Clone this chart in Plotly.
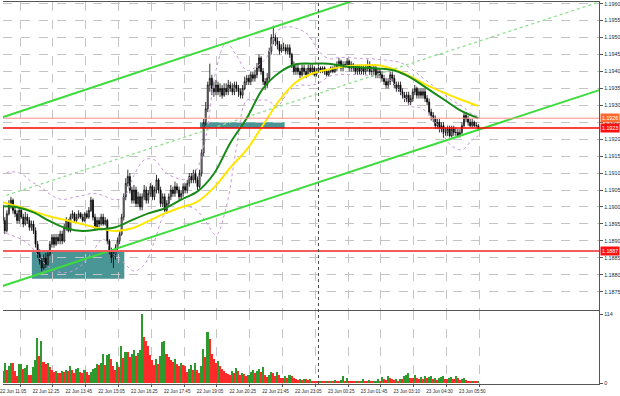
import plotly.graph_objects as go

# ---------------- data ----------------
time_labels = ["22 Jun 11:05", "22 Jun 12:25", "22 Jun 13:45", "22 Jun 15:05", "22 Jun 16:25",
               "22 Jun 17:45", "22 Jun 19:05", "22 Jun 20:25", "22 Jun 21:45", "22 Jun 23:05",
               "23 Jun 00:25", "23 Jun 01:45", "23 Jun 03:10", "23 Jun 04:30", "23 Jun 05:50"]
time_label_bars = [0, 16, 32, 48, 64, 80, 96, 112, 128, 144, 160, 176, 192, 208, 224]
day_separator_bar = 155

price_ticks = [1.1875, 1.1880, 1.1885, 1.1890, 1.1895, 1.1900, 1.1905, 1.1910, 1.1915, 1.1920,
               1.1925, 1.1930, 1.1935, 1.1940, 1.1945, 1.1950, 1.1955, 1.1960]
volume_ticks = [0, 114]

opens = [
    1.1902, 1.1900, 1.1896, 1.1893, 1.1898, 1.1901, 1.1902, 1.1899, 1.1898, 1.1896,
    1.1899, 1.1897, 1.1895, 1.1897, 1.1896, 1.1894, 1.1895, 1.1893, 1.1889, 1.1886,
    1.1884, 1.1882, 1.1885, 1.1883, 1.1886, 1.1889, 1.1891, 1.1889, 1.1891, 1.1890,
    1.1892, 1.1890, 1.1894, 1.1896, 1.1893, 1.1897, 1.1898, 1.1896, 1.1897, 1.1898,
    1.1897, 1.1896, 1.1898, 1.1897, 1.1899, 1.1902, 1.1897, 1.1894, 1.1896, 1.1895,
    1.1897, 1.1895, 1.1896, 1.1890, 1.1887, 1.1885, 1.1886, 1.1888, 1.1890, 1.1892,
    1.1897, 1.1903, 1.1907, 1.1909, 1.1905, 1.1902, 1.1905, 1.1901, 1.1903, 1.1900,
    1.1903, 1.1905, 1.1902, 1.1904, 1.1906, 1.1903, 1.1905, 1.1908, 1.1905, 1.1901,
    1.1903, 1.1899, 1.1901, 1.1903, 1.1905, 1.1904, 1.1906, 1.1905, 1.1903, 1.1904,
    1.1906, 1.1905, 1.1907, 1.1909, 1.1908, 1.1910, 1.1908, 1.1906, 1.1910, 1.1916,
    1.1925, 1.1929, 1.1936, 1.1938, 1.1935, 1.1934, 1.1936, 1.1934, 1.1935, 1.1933,
    1.1935, 1.1934, 1.1936, 1.1935, 1.1934, 1.1936, 1.1935, 1.1934, 1.1933, 1.1935,
    1.1937, 1.1938, 1.1937, 1.1939, 1.1938, 1.1939, 1.1941, 1.1944, 1.1940, 1.1937,
    1.1936, 1.1938, 1.1946, 1.1950, 1.1950, 1.1949, 1.1948, 1.1946, 1.1947, 1.1947,
    1.1946, 1.1947, 1.1945, 1.1942, 1.1940, 1.1941, 1.1940, 1.1939, 1.1941, 1.1940,
    1.1939, 1.1941, 1.1940, 1.1941, 1.1939, 1.1940, 1.1941, 1.1940, 1.1941, 1.1940,
    1.1939, 1.1940, 1.1941, 1.1940, 1.1941, 1.1942, 1.1943, 1.1941, 1.1942, 1.1942,
    1.1943, 1.1941, 1.1942, 1.1941, 1.1940, 1.1941, 1.1940, 1.1941, 1.1940, 1.1941,
    1.1942, 1.1940, 1.1940, 1.1941, 1.1939, 1.1940, 1.1939, 1.1938, 1.1937, 1.1936,
    1.1937, 1.1939, 1.1938, 1.1936, 1.1935, 1.1936, 1.1934, 1.1933, 1.1932, 1.1933,
    1.1931, 1.1932, 1.1934, 1.1935, 1.1933, 1.1934, 1.1933, 1.1934, 1.1932, 1.1931,
    1.1928, 1.1927, 1.1926, 1.1924, 1.1925, 1.1923, 1.1924, 1.1922, 1.1922, 1.1923,
    1.1921, 1.1923, 1.1922, 1.1922, 1.1921, 1.1922, 1.1924, 1.1927, 1.1926, 1.1925,
    1.1924, 1.1925, 1.1924, 1.1924]

highs = [
    1.19030, 1.19010, 1.18970, 1.18990, 1.19020, 1.19030, 1.19025, 1.19000, 1.18990, 1.19000,
    1.19000, 1.18980, 1.18985, 1.18980, 1.18970, 1.18960, 1.18960, 1.18940, 1.18900, 1.18875,
    1.18850, 1.18860, 1.18865, 1.18870, 1.18900, 1.18920, 1.18920, 1.18920, 1.18920, 1.18930,
    1.18930, 1.18950, 1.18970, 1.18965, 1.18980, 1.18990, 1.18985, 1.18980, 1.18990, 1.18985,
    1.18980, 1.18985, 1.18990, 1.19000, 1.19030, 1.19025, 1.18980, 1.18970, 1.18970, 1.18980,
    1.18980, 1.18970, 1.18965, 1.18905, 1.18880, 1.18870, 1.18890, 1.18910, 1.18930, 1.18980,
    1.19040, 1.19085, 1.19110, 1.19100, 1.19060, 1.19065, 1.19060, 1.19045, 1.19040, 1.19040,
    1.19065, 1.19060, 1.19050, 1.19070, 1.19065, 1.19060, 1.19095, 1.19085, 1.19060, 1.19040,
    1.19040, 1.19020, 1.19040, 1.19065, 1.19060, 1.19075, 1.19070, 1.19060, 1.19050, 1.19070,
    1.19070, 1.19080, 1.19100, 1.19100, 1.19110, 1.19110, 1.19090, 1.19110, 1.19170, 1.19260,
    1.19310, 1.19370, 1.19423, 1.19390, 1.19370, 1.19375, 1.19370, 1.19365, 1.19360, 1.19365,
    1.19365, 1.19375, 1.19370, 1.19365, 1.19370, 1.19370, 1.19360, 1.19350, 1.19360, 1.19385,
    1.19390, 1.19390, 1.19400, 1.19400, 1.19405, 1.19425, 1.19450, 1.19445, 1.19410, 1.19380,
    1.19395, 1.19470, 1.19510, 1.19535, 1.19510, 1.19500, 1.19490, 1.19480, 1.19485, 1.19480,
    1.19480, 1.19480, 1.19455, 1.19430, 1.19420, 1.19420, 1.19410, 1.19420, 1.19420, 1.19410,
    1.19420, 1.19420, 1.19420, 1.19415, 1.19410, 1.19415, 1.19415, 1.19415, 1.19415, 1.19405,
    1.19405, 1.19415, 1.19415, 1.19420, 1.19430, 1.19440, 1.19435, 1.19430, 1.19430, 1.19440,
    1.19435, 1.19430, 1.19425, 1.19420, 1.19420, 1.19420, 1.19420, 1.19420, 1.19420, 1.19435,
    1.19430, 1.19415, 1.19420, 1.19420, 1.19410, 1.19410, 1.19400, 1.19390, 1.19380, 1.19380,
    1.19400, 1.19400, 1.19390, 1.19370, 1.19370, 1.19370, 1.19350, 1.19340, 1.19340, 1.19340,
    1.19330, 1.19350, 1.19360, 1.19355, 1.19350, 1.19350, 1.19350, 1.19350, 1.19330, 1.19320,
    1.19290, 1.19280, 1.19270, 1.19260, 1.19260, 1.19250, 1.19250, 1.19235, 1.19240, 1.19240,
    1.19240, 1.19240, 1.19235, 1.19230, 1.19230, 1.19250, 1.19280, 1.19280, 1.19270, 1.19260,
    1.19260, 1.19255, 1.19250, 1.19245]

lows = [
    1.18985, 1.18950, 1.18920, 1.18925, 1.18975, 1.18995, 1.18980, 1.18970, 1.18950, 1.18950,
    1.18965, 1.18940, 1.18945, 1.18950, 1.18930, 1.18930, 1.18920, 1.18880, 1.18850, 1.18830,
    1.18810, 1.18815, 1.18820, 1.18825, 1.18855, 1.18880, 1.18880, 1.18885, 1.18890, 1.18890,
    1.18890, 1.18895, 1.18930, 1.18925, 1.18925, 1.18965, 1.18955, 1.18955, 1.18965, 1.18965,
    1.18955, 1.18955, 1.18965, 1.18965, 1.18985, 1.18960, 1.18930, 1.18935, 1.18940, 1.18945,
    1.18945, 1.18945, 1.18890, 1.18860, 1.18835, 1.18820, 1.18845, 1.18870, 1.18890, 1.18915,
    1.18960, 1.19020, 1.19060, 1.19040, 1.19010, 1.19010, 1.19000, 1.19000, 1.18990, 1.18990,
    1.19020, 1.19010, 1.19010, 1.19030, 1.19020, 1.19020, 1.19040, 1.19040, 1.19000, 1.19000,
    1.18985, 1.18980, 1.19000, 1.19020, 1.19030, 1.19030, 1.19040, 1.19020, 1.19020, 1.19030,
    1.19040, 1.19040, 1.19060, 1.19070, 1.19070, 1.19070, 1.19050, 1.19055, 1.19090, 1.19150,
    1.19240, 1.19280, 1.19340, 1.19330, 1.19325, 1.19330, 1.19330, 1.19325, 1.19320, 1.19325,
    1.19330, 1.19330, 1.19340, 1.19330, 1.19330, 1.19340, 1.19325, 1.19320, 1.19320, 1.19345,
    1.19360, 1.19360, 1.19360, 1.19370, 1.19370, 1.19380, 1.19400, 1.19390, 1.19360, 1.19345,
    1.19350, 1.19370, 1.19450, 1.19480, 1.19475, 1.19465, 1.19450, 1.19455, 1.19460, 1.19450,
    1.19450, 1.19440, 1.19410, 1.19390, 1.19390, 1.19390, 1.19380, 1.19385, 1.19390, 1.19380,
    1.19385, 1.19390, 1.19390, 1.19385, 1.19385, 1.19395, 1.19395, 1.19395, 1.19390, 1.19385,
    1.19385, 1.19395, 1.19395, 1.19395, 1.19400, 1.19410, 1.19400, 1.19400, 1.19410, 1.19410,
    1.19400, 1.19400, 1.19400, 1.19390, 1.19390, 1.19390, 1.19390, 1.19390, 1.19390, 1.19400,
    1.19390, 1.19385, 1.19390, 1.19380, 1.19380, 1.19380, 1.19370, 1.19360, 1.19350, 1.19350,
    1.19360, 1.19370, 1.19350, 1.19340, 1.19340, 1.19330, 1.19320, 1.19310, 1.19310, 1.19300,
    1.19300, 1.19310, 1.19330, 1.19320, 1.19320, 1.19320, 1.19320, 1.19310, 1.19300, 1.19270,
    1.19255, 1.19250, 1.19230, 1.19230, 1.19220, 1.19220, 1.19204, 1.19210, 1.19210, 1.19205,
    1.19205, 1.19210, 1.19210, 1.19205, 1.19205, 1.19215, 1.19235, 1.19250, 1.19240, 1.19235,
    1.19235, 1.19235, 1.19235, 1.19225]

closes = [
    1.1900, 1.1896, 1.1893, 1.1898, 1.1901, 1.1902, 1.1899, 1.1898, 1.1896, 1.1899,
    1.1897, 1.1895, 1.1897, 1.1896, 1.1894, 1.1895, 1.1893, 1.1889, 1.1886, 1.1884,
    1.1882, 1.1885, 1.1883, 1.1886, 1.1889, 1.1891, 1.1889, 1.1891, 1.1890, 1.1892,
    1.1890, 1.1894, 1.1896, 1.1893, 1.1897, 1.1898, 1.1896, 1.1897, 1.1898, 1.1897,
    1.1896, 1.1898, 1.1897, 1.1899, 1.1902, 1.1897, 1.1894, 1.1896, 1.1895, 1.1897,
    1.1895, 1.1896, 1.1890, 1.1887, 1.1885, 1.1886, 1.1888, 1.1890, 1.1892, 1.1897,
    1.1903, 1.1907, 1.1909, 1.1905, 1.1902, 1.1905, 1.1901, 1.1903, 1.1900, 1.1903,
    1.1905, 1.1902, 1.1904, 1.1906, 1.1903, 1.1905, 1.1908, 1.1905, 1.1901, 1.1903,
    1.1899, 1.1901, 1.1903, 1.1905, 1.1904, 1.1906, 1.1905, 1.1903, 1.1904, 1.1906,
    1.1905, 1.1907, 1.1909, 1.1908, 1.1910, 1.1908, 1.1906, 1.1910, 1.1916, 1.1925,
    1.1929, 1.1936, 1.1938, 1.1935, 1.1934, 1.1936, 1.1934, 1.1935, 1.1933, 1.1935,
    1.1934, 1.1936, 1.1935, 1.1934, 1.1936, 1.1935, 1.1934, 1.1933, 1.1935, 1.1937,
    1.1938, 1.1937, 1.1939, 1.1938, 1.1939, 1.1941, 1.1944, 1.1940, 1.1937, 1.1936,
    1.1938, 1.1946, 1.1950, 1.1950, 1.1949, 1.1948, 1.1946, 1.1947, 1.1947, 1.1946,
    1.1947, 1.1945, 1.1942, 1.1940, 1.1941, 1.1940, 1.1939, 1.1941, 1.1940, 1.1939,
    1.1941, 1.1940, 1.1941, 1.1939, 1.1940, 1.1941, 1.1940, 1.1941, 1.1940, 1.1939,
    1.1940, 1.1941, 1.1940, 1.1941, 1.1942, 1.1943, 1.1941, 1.1942, 1.1942, 1.1943,
    1.1941, 1.1942, 1.1941, 1.1940, 1.1941, 1.1940, 1.1941, 1.1940, 1.1941, 1.1942,
    1.1940, 1.1940, 1.1941, 1.1939, 1.1940, 1.1939, 1.1938, 1.1937, 1.1936, 1.1937,
    1.1939, 1.1938, 1.1936, 1.1935, 1.1936, 1.1934, 1.1933, 1.1932, 1.1933, 1.1931,
    1.1932, 1.1934, 1.1935, 1.1933, 1.1934, 1.1933, 1.1934, 1.1932, 1.1931, 1.1928,
    1.1927, 1.1926, 1.1924, 1.1925, 1.1923, 1.1924, 1.1922, 1.1922, 1.1923, 1.1921,
    1.1923, 1.1922, 1.1922, 1.1921, 1.1922, 1.1924, 1.1927, 1.1926, 1.1925, 1.1924,
    1.1925, 1.1924, 1.1924, 1.1923]

volumes = [
    22, 20, 34, 21, 28, 34, 33, 20, 12, 31,
    32, 23, 25, 30, 14, 13, 26, 38, 74, 45,
    69, 35, 31, 33, 27, 22, 18, 20, 17, 16,
    20, 19, 22, 20, 29, 22, 17, 24, 25, 19,
    16, 22, 18, 13, 19, 23, 25, 31, 30, 34,
    48, 30, 46, 49, 40, 28, 22, 35, 26, 61,
    42, 52, 51, 44, 48, 55, 45, 50, 55, 114,
    77, 70, 62, 47, 38, 30, 40, 32, 45, 68,
    70, 48, 43, 38, 35, 40, 32, 28, 34, 30,
    28, 18, 24, 30, 22, 33, 22, 17, 29, 56,
    44, 85, 73, 48, 40, 33, 36, 28, 23, 20,
    17, 15, 14, 20, 17, 25, 20, 14, 17, 15,
    11, 14, 18, 21, 16, 20, 24, 18, 26, 14,
    10, 14, 18, 16, 12, 18, 14, 9, 8, 11,
    9, 13, 12, 8, 6, 5, 6, 5, 6, 6,
    5, 6, 4, 3, 3, 2, 3, 2, 2, 3,
    2, 4, 3, 5, 3, 2, 5, 12, 4, 9,
    4, 3, 2, 2, 3, 2, 4, 6, 4, 3,
    5, 2, 3, 4, 6, 4, 10, 6, 5, 12,
    8, 7, 5, 6, 4, 7, 6, 11, 13, 17,
    9, 8, 14, 8, 6, 10, 7, 12, 8, 10,
    12, 6, 8, 5, 9, 10, 12, 7, 6, 8,
    10, 6, 12, 8, 5, 6, 9, 5, 4, 3,
    4, 3, 2, 4]

# moving averages (30 green, 50 yellow) at these bars
ma_bars = [0, 8, 16, 24, 32, 40, 48, 56, 64, 72, 80, 88, 96, 104, 112, 120, 128, 136, 144,
           152, 160, 168, 176, 184, 192, 200, 208, 216, 224, 233]
ma30 = [1.19002, 1.18999, 1.18984, 1.18958, 1.18937, 1.18929, 1.18934, 1.18940, 1.18961, 1.18981,
        1.18996, 1.19022, 1.19046, 1.19098, 1.19189, 1.19262, 1.19350, 1.19397, 1.19421, 1.19423,
        1.19423, 1.19415, 1.19412, 1.19409, 1.19403, 1.19382, 1.19350, 1.19318, 1.19286, 1.19262]
ma50 = [1.19016, 1.19002, 1.18987, 1.18972, 1.18961, 1.18949, 1.18937, 1.18929, 1.18937, 1.18958,
        1.18981, 1.18999, 1.19016, 1.19057, 1.19116, 1.19169, 1.19242, 1.19315, 1.19368, 1.19394,
        1.19406, 1.19415, 1.19418, 1.19418, 1.19406, 1.19385, 1.19359, 1.19338, 1.19318, 1.19298]

# Bollinger bands at these bars
bb_bars = [0, 5, 10, 15, 20, 25, 30, 35, 40, 45, 50, 55, 60, 65, 70, 75, 80, 85, 90, 95,
           100, 105, 110, 115, 120, 125, 130, 135, 140, 145, 150, 155, 160, 165, 170, 175,
           180, 185, 190, 195, 200, 205, 210, 215, 220, 225, 230, 233]
bb_upper = [1.19095, 1.19104, 1.19098, 1.19075, 1.19057, 1.19034, 1.19022, 1.19028, 1.19034, 1.19040,
            1.19034, 1.19022, 1.19028, 1.19093, 1.19139, 1.19139, 1.19104, 1.19087, 1.19081, 1.19104,
            1.19204, 1.19403, 1.19485, 1.19447, 1.19403, 1.19415, 1.19444, 1.19520, 1.19532, 1.19526,
            1.19508, 1.19461, 1.19438, 1.19441, 1.19441, 1.19438, 1.19438, 1.19435, 1.19432, 1.19426,
            1.19409, 1.19385, 1.19362, 1.19338, 1.19315, 1.19298, 1.19274, 1.19268]
bb_lower = [1.18929, 1.18917, 1.18905, 1.18882, 1.18841, 1.18817, 1.18806, 1.18811, 1.18832, 1.18870,
            1.18905, 1.18861, 1.18835, 1.18811, 1.18829, 1.18899, 1.18978, 1.18993, 1.19002, 1.18993,
            1.18958, 1.18917, 1.18999, 1.19175, 1.19315, 1.19315, 1.19315, 1.19298, 1.19338, 1.19359,
            1.19359, 1.19365, 1.19385, 1.19391, 1.19391, 1.19391, 1.19388, 1.19385, 1.19374, 1.19338,
            1.19298, 1.19292, 1.19268, 1.19221, 1.19180, 1.19169, 1.19198, 1.19210]

# trend channel lines (bar, price endpoints)
channel_top_bars = [0, 180]
channel_top_prices = [1.19263, 1.19625]
channel_bottom_bars = [0, 292]
channel_bottom_prices = [1.18765, 1.19345]
channel_mid_bars = [0, 292]
channel_mid_prices = [1.19029, 1.19605]

# horizontal levels
level_prices = [1.19262, 1.19233, 1.18870]
level_labels = ["1.1926", "1.1923", "1.1887"]
level_colors = ["#ff8c8c", "#ff0000", "#f25c5c"]
level_widths = [1, 1.5, 2]
level_box_colors = ["#ff6a30", "#ff1010", "#ff1010"]

# highlighted zones (bar range, price range)
zone_bar_start = [97.2, 15.2]
zone_bar_end = [138.5, 60.3]
zone_price_low = [1.19232, 1.18788]
zone_price_high = [1.19250, 1.18868]

# ---------------- figure ----------------
bars = list(range(len(closes)))
W, H = 620, 396
x_range = [1.12, 291.9]
price_range = [1.18697, 1.19605]
vol_range = [-1.6, 119.7]
x_dom = [0, 599 / W]
price_dom = [1 - 311 / H, 1 - 1 / H]
vol_dom = [1 - 386 / H, 1 - 312.5 / H]
grid_vals = [b + 9.5 for b in time_label_bars]
FONT = "Liberation Sans"
GRID = "#c4c4c4"
AXIS = "#555555"

vol_colors = ["#2e9a2e"] + ["#2e9a2e" if volumes[i] > volumes[i - 1] else "#ff2a2a"
                            for i in range(1, len(volumes))]

fig = go.Figure()

# Bollinger bands
for band in (bb_upper, bb_lower):
    fig.add_trace(go.Scatter(x=bb_bars, y=band, mode="lines", xaxis="x", yaxis="y",
                             line=dict(color="#c79ad8", width=1, dash="dot", shape="spline", smoothing=1.0),
                             hoverinfo="skip"))

# dotted mid channel
fig.add_trace(go.Scatter(x=channel_mid_bars, y=channel_mid_prices, mode="lines", xaxis="x", yaxis="y",
                         line=dict(color="#8fe08f", width=1.3, dash="dot"), hoverinfo="skip"))

# candles
fig.add_trace(go.Candlestick(x=bars, open=opens, high=highs, low=lows, close=closes,
                             xaxis="x", yaxis="y", whiskerwidth=0,
                             increasing=dict(line=dict(color="#000000", width=0.8), fillcolor="#ffffff"),
                             decreasing=dict(line=dict(color="#000000", width=0.8), fillcolor="#000000"),
                             hoverinfo="skip"))

# moving averages
fig.add_trace(go.Scatter(x=ma_bars, y=ma50, mode="lines", xaxis="x", yaxis="y",
                         line=dict(color="#ffe600", width=2, shape="spline", smoothing=1.0), hoverinfo="skip"))
fig.add_trace(go.Scatter(x=ma_bars, y=ma30, mode="lines", xaxis="x", yaxis="y",
                         line=dict(color="#178a17", width=2, shape="spline", smoothing=1.0), hoverinfo="skip"))

# channel lines
fig.add_trace(go.Scatter(x=channel_top_bars, y=channel_top_prices, mode="lines", xaxis="x", yaxis="y",
                         line=dict(color="#3ddc3d", width=2), hoverinfo="skip"))
fig.add_trace(go.Scatter(x=channel_bottom_bars, y=channel_bottom_prices, mode="lines", xaxis="x", yaxis="y",
                         line=dict(color="#3ddc3d", width=2), hoverinfo="skip"))

# volumes
fig.add_trace(go.Bar(x=bars, y=volumes, xaxis="x2", yaxis="y2", width=0.75,
                     marker=dict(color=vol_colors, line=dict(width=0)), hoverinfo="skip"))

shapes = []
for b0, b1, p0, p1 in zip(zone_bar_start, zone_bar_end, zone_price_low, zone_price_high):
    shapes.append(dict(type="rect", xref="x", yref="y", x0=b0, x1=b1, y0=p0, y1=p1,
                       fillcolor="#4a9595", line=dict(width=0), layer="below"))
for p, c, w in zip(level_prices, level_colors, level_widths):
    shapes.append(dict(type="line", xref="x domain", yref="y", x0=0, x1=1, y0=p, y1=p,
                       line=dict(color=c, width=w), layer="above"))
shapes.append(dict(type="line", xref="x", yref="paper", x0=day_separator_bar, x1=day_separator_bar,
                   y0=vol_dom[0], y1=price_dom[1], line=dict(color="#444444", width=1, dash="dot")))

annotations = []
for p, t, c in zip(level_prices, level_labels, level_box_colors):
    annotations.append(dict(xref="paper", yref="y", x=599.5 / W, y=p, text=t, showarrow=False,
                            xanchor="left", yanchor="middle", bgcolor=c, borderpad=1,
                            font=dict(family=FONT, size=5.3, color="#ffffff")))

fig.update_layout(
    width=W, height=H, margin=dict(l=0, r=0, t=0, b=0),
    paper_bgcolor="#ffffff", plot_bgcolor="#ffffff", showlegend=False, bargap=0,
    shapes=shapes, annotations=annotations, hovermode=False,
    xaxis=dict(domain=x_dom, range=x_range, anchor="y", tickvals=grid_vals, showticklabels=False,
               ticks="", showgrid=True, gridcolor=GRID, griddash="dash", gridwidth=1,
               showline=True, mirror=True, linecolor=AXIS, linewidth=1, zeroline=False,
               rangeslider=dict(visible=False)),
    yaxis=dict(domain=price_dom, range=price_range, anchor="x", side="right", tickvals=price_ticks,
               tickformat=".4f", ticks="outside", ticklen=3, tickcolor=AXIS, tickwidth=1,
               ticklabeloverflow="allow",
               showgrid=True, gridcolor=GRID, griddash="dash", gridwidth=1,
               showline=True, linecolor=AXIS, linewidth=1, zeroline=False,
               tickfont=dict(family=FONT, size=5.3, color="#2a2a2a")),
    xaxis2=dict(domain=x_dom, matches="x", anchor="y2", tickvals=grid_vals, ticktext=time_labels,
                ticklabelshift=-7, ticklabeloverflow="allow", ticks="outside", ticklen=2,
                tickcolor=AXIS, showgrid=True, gridcolor=GRID, griddash="dash", gridwidth=1,
                showline=True, mirror=True, linecolor=AXIS, linewidth=1, zeroline=False,
                tickfont=dict(family=FONT, size=4.6, color="#2a2a2a"), rangeslider=dict(visible=False)),
    yaxis2=dict(domain=vol_dom, range=vol_range, anchor="x2", side="right", tickvals=volume_ticks,
                ticks="outside", ticklen=3, tickcolor=AXIS, showgrid=False, ticklabeloverflow="allow",
                showline=True, linecolor=AXIS, linewidth=1, zeroline=False,
                tickfont=dict(family=FONT, size=5.3, color="#2a2a2a")),
)

fig.write_html("out.html", config={"displayModeBar": False},
               post_script="document.body.style.margin='0';document.body.style.padding='0';")
